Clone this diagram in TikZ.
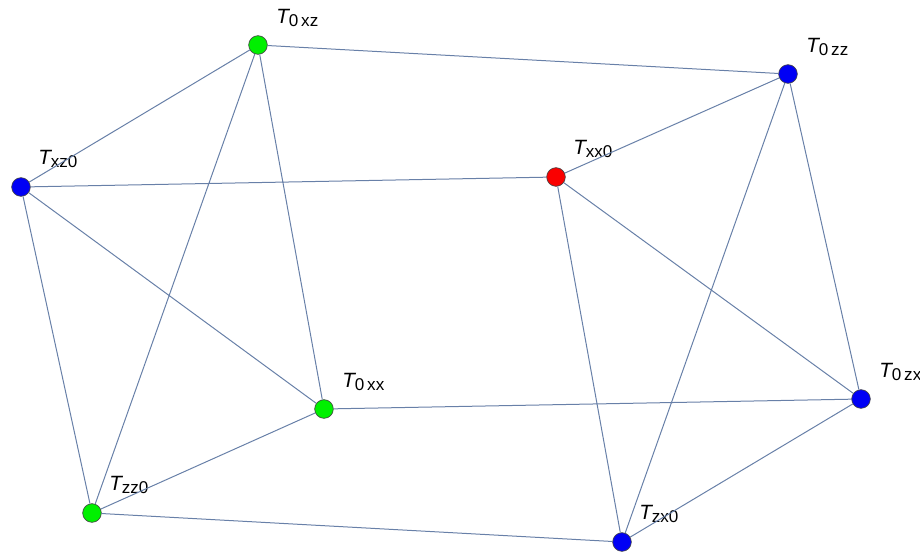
\documentclass[tikz,border=0pt]{standalone}
\usepackage{fontspec}
\setmainfont{Liberation Sans}
\usetikzlibrary{positioning}

\definecolor{edgecol}{RGB}{104,128,168}
\definecolor{rimcol}{RGB}{70,70,70}
\newcommand{\tsub}[1]{{\itshape T}\raisebox{-0.32ex}{\fontsize{12.8}{12.8}\selectfont #1}}

\tikzset{
  vtx/.style={circle, draw=rimcol, line width=0.5pt, minimum size=14pt, inner sep=0pt},
  grn/.style={vtx, fill={rgb,255:red,0;green,240;blue,0}},
  blu/.style={vtx, fill={rgb,255:red,0;green,0;blue,245}},
  rd/.style={vtx, fill={rgb,255:red,250;green,0;blue,0}},
  lbl/.style={anchor=base west, inner sep=0pt, font=\fontsize{15.5}{15.5}\selectfont},
  link/.style={draw=edgecol, line width=0.75pt}
}

\begin{document}
\begin{tikzpicture}[x=0.75pt, y=-0.75pt]
  \useasboundingbox (0,0) rectangle (920,553);
  % vertices
  \node[grn] (t0xz) at (258,45) {};
  \node[blu] (t0zz) at (788,74) {};
  \node[blu] (txz0) at (21,187) {};
  \node[rd]  (txx0) at (556,177) {};
  \node[grn] (t0xx) at (324,409) {};
  \node[blu] (t0zx) at (861,399) {};
  \node[grn] (tzz0) at (92,513) {};
  \node[blu] (tzx0) at (622,542) {};
  % labels
  \node[lbl] (l0xz) at ([shift={(18,-22)}]t0xz.center) {\tsub{0\,xz}};
  \node[lbl] (l0zz) at ([shift={(18,-22)}]t0zz.center) {\tsub{0\,zz}};
  \node[lbl] (lxz0) at ([shift={(17,-23)}]txz0.center) {\tsub{xz0}};
  \node[lbl] (lxx0) at ([shift={(17,-23)}]txx0.center) {\tsub{xx0}};
  \node[lbl] (l0xx) at ([shift={(18,-22)}]t0xx.center) {\tsub{0\,xx}};
  \node[lbl] (l0zx) at ([shift={(18,-22)}]t0zx.center) {\tsub{0\,zx}};
  \node[lbl] (lzz0) at ([shift={(17,-23)}]tzz0.center) {\tsub{zz0}};
  \node[lbl] (lzx0) at ([shift={(17,-23)}]tzx0.center) {\tsub{zx0}};
  % edges
  \path[link] (t0xz) -- (t0zz)
    (t0xz) -- (txz0)
    (t0xz) -- (t0xx)
    (t0xz) -- (tzz0)
    (t0zz) -- (txx0)
    (t0zz) -- (tzx0)
    (t0zz) -- (t0zx)
    (txz0) -- (txx0)
    (txz0) -- (t0xx)
    (txz0) -- (tzz0)
    (txx0) -- (tzx0)
    (txx0) -- (t0zx)
    (t0xx) -- (t0zx)
    (t0xx) -- (tzz0)
    (tzz0) -- (tzx0)
    (tzx0) -- (t0zx);
\end{tikzpicture}
\end{document}
